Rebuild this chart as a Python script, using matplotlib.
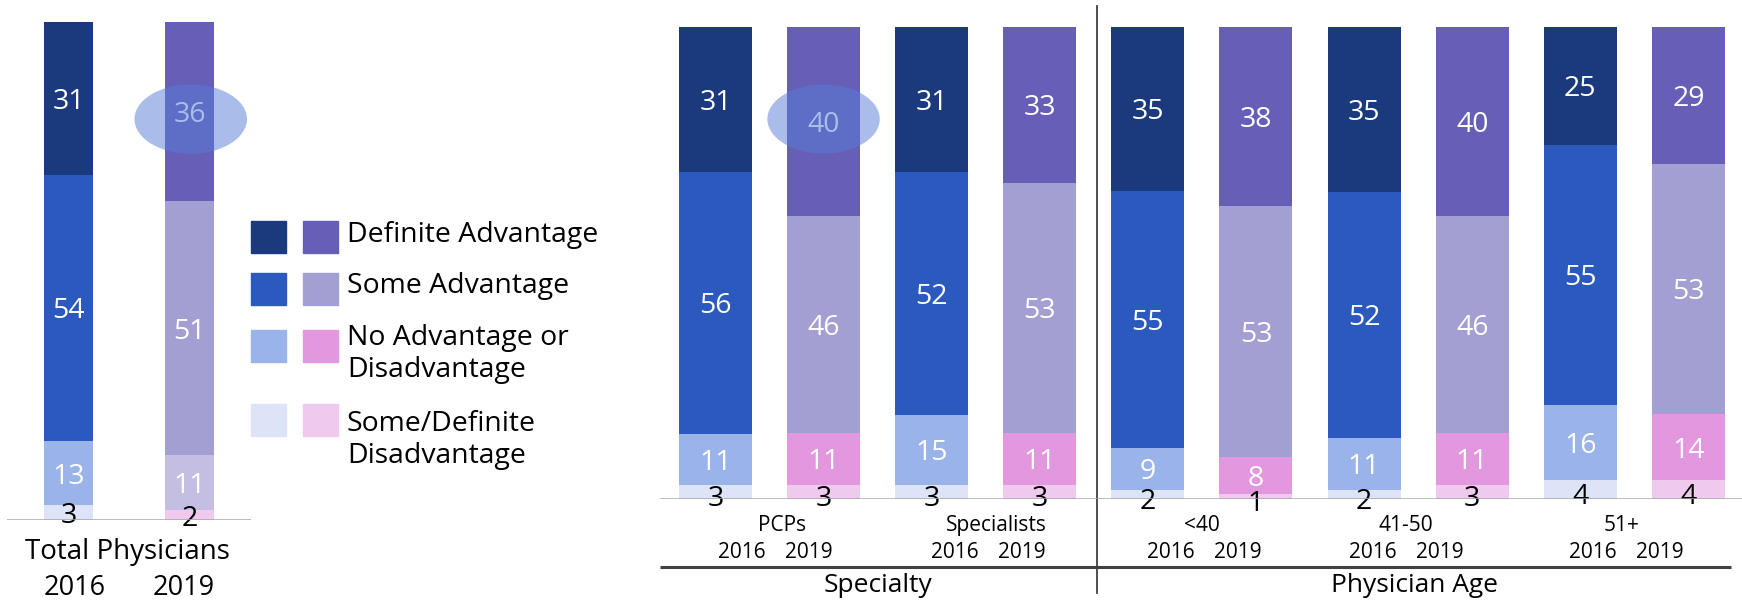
import matplotlib
matplotlib.use("Agg")
import matplotlib.pyplot as plt
from matplotlib.patches import Rectangle, Ellipse
from matplotlib import transforms

plt.rcParams['font.family'] = ['Open Sans', 'DejaVu Sans']

# ---- data ----
segments = ["Some/Definite\nDisadvantage", "No Advantage or\nDisadvantage",
            "Some Advantage", "Definite Advantage"]   # bottom -> top
years = ["2016", "2019"]

total_2016 = [3, 13, 54, 31]
total_2019 = [2, 11, 51, 36]

groups = ["PCPs", "Specialists", "<40", "41-50", "51+"]
definite = [31, 40, 31, 33, 35, 38, 35, 40, 25, 29]
some = [56, 46, 52, 53, 55, 53, 52, 46, 55, 53]
no_adv = [11, 11, 15, 11, 9, 8, 11, 11, 16, 14]
disadv = [3, 3, 3, 3, 2, 1, 2, 3, 4, 4]

# ---- styles ----
col_2016 = ["#DEE4F7", "#9AB3E8", "#2B59BE", "#1B3A7E"]
col_2019 = ["#F0C9EE", "#E397DF", "#A39FD3", "#675FB7"]
col_2019_total = ["#F0C9EE", "#C4BFE2", "#A39FD3", "#675FB7"]
txt_col = ["black", "white", "white", "white"]
grey = "#A6A6A6"
dark = "#404040"

W, H = 1742, 601
fig = plt.figure(figsize=(W / 100, H / 100), dpi=100)


def px_axes(l, t, r, b):
    return fig.add_axes([l / W, 1 - b / H, (r - l) / W, (b - t) / H])


def stacked(ax, x, vals, colors, width, size, low=0.0):
    tot = sum(vals)
    bottom = 0
    for k, (v, c, tc) in enumerate(zip(vals, colors, txt_col)):
        h = v / tot * 100
        ax.bar(x, h, width, bottom=bottom, color=c, zorder=2)
        y = bottom + h / 2 - (low if k == 0 else 0)
        ax.text(x, y, str(v), ha="center", va="center_baseline",
                color=tc, fontsize=size, zorder=3)
        bottom += h


def clean(ax):
    for s in ax.spines.values():
        s.set_visible(False)
    ax.set_xticks([])
    ax.set_yticks([])
    ax.set_ylim(0, 100)
    ax.axhline(0, color=grey, lw=1.8, zorder=4)


# ---- left: total physicians ----
ax1 = px_axes(7, 22, 251, 520)
ax1.set_xlim(-0.508, 1.508)
clean(ax1)
stacked(ax1, 0, total_2016, col_2016, 0.405, 20.5)
stacked(ax1, 1, total_2019, col_2019_total, 0.405, 20.5)
ax1.add_patch(Ellipse((1.01, 100 - total_2019[3] / sum(total_2019) * 50 - 1.5), 0.93, 13.9,
                      color="#577DD7", alpha=0.5, lw=0, zorder=5))
tr1 = transforms.blended_transform_factory(ax1.transData, ax1.transAxes)
ax1.text(0.49, -0.064, "Total Physicians", transform=tr1, ha="center", va="center",
         fontsize=20)
ax1.text(0.05, -0.137, years[0], transform=tr1, ha="center", va="center", fontsize=19.5)
ax1.text(0.95, -0.137, years[1], transform=tr1, ha="center", va="center", fontsize=19.5)

# ---- right: specialty and age ----
ax2 = px_axes(660, 27, 1742, 499)
ax2.set_xlim(-0.513, 9.496)
clean(ax2)
for i in range(len(definite)):
    vals = [disadv[i], no_adv[i], some[i], definite[i]]
    stacked(ax2, i, vals, col_2016 if i % 2 == 0 else col_2019, 0.675, 20.5, low=0.8)
ax2.add_patch(Ellipse((1, 100 - definite[1] / 2 + 0.5), 1.04, 14.6,
                      color="#577DD7", alpha=0.5, lw=0, zorder=5))

tr2 = transforms.blended_transform_factory(ax2.transData, ax2.transAxes)
name_shift = [0.12, 0.1, 0.0, -0.11, -0.12]
year_shift = [0.05, 0.02, 0.02, -0.11, -0.07]
for g, name in enumerate(groups):
    c = 2 * g + 0.5
    ax2.text(c + name_shift[g], -0.057, name, transform=tr2, ha="center", va="center",
             fontsize=15)
    ax2.text(c + year_shift[g] - 0.31, -0.114, years[0], transform=tr2, ha="center",
             va="center", fontsize=15)
    ax2.text(c + year_shift[g] + 0.31, -0.114, years[1], transform=tr2, ha="center",
             va="center", fontsize=15)

ax2.plot([0, 0.99], [-0.144, -0.144], transform=ax2.transAxes, color=dark, lw=2.2,
         clip_on=False, solid_capstyle="butt")
ax2.plot([3.53, 3.53], [1.045, -0.199], transform=tr2, color=dark, lw=1.3,
         clip_on=False)
ax2.text(1.5, -0.184, "Specialty", transform=tr2, ha="center", va="center", fontsize=19)
ax2.text(6.47, -0.184, "Physician Age", transform=tr2, ha="center", va="center",
         fontsize=19)

# ---- legend ----
rows_top = [221, 273, 330, 404]
text_y = [235, 286, 354, 440]
for k, r in enumerate(reversed(range(4))):
    y = rows_top[k]
    fig.patches.append(Rectangle((251 / W, 1 - (y + 32) / H), 35 / W, 32 / H,
                                 transform=fig.transFigure, color=col_2016[r]))
    fig.patches.append(Rectangle((303 / W, 1 - (y + 32) / H), 35 / W, 32 / H,
                                 transform=fig.transFigure, color=col_2019[r]))
    fig.text(347 / W, 1 - text_y[k] / H, segments[r], ha="left", va="center",
             fontsize=20.4, linespacing=1.2)

fig.savefig("out.png", dpi=100)
